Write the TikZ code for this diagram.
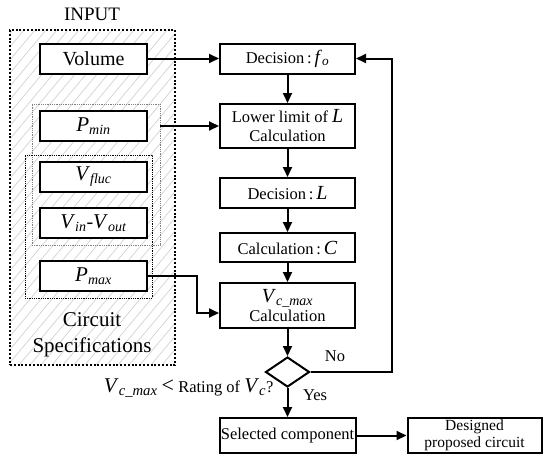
\documentclass[tikz,border=0pt]{standalone}
\usepackage{fontspec}
\setmainfont{Liberation Serif}
\usetikzlibrary{shapes.geometric,arrows.meta,calc}
\newcommand{\vv}[1]{\textit{#1}}
\begin{document}
\begin{tikzpicture}[x=1pt,y=-1pt,
  box/.style={draw,line width=2pt,fill=white,inner sep=0pt,align=center},
  lbox/.style={box,minimum width=107pt,minimum height=30pt,font=\fontsize{20}{22}\selectfont},
  rbox/.style={box,minimum width=135pt,font=\fontsize{16.5}{19}\selectfont},
  conn/.style={line width=2pt,-{Triangle[length=10pt,width=9pt]}},
  hatch/.style={gray!35,line width=0.7pt}]
\useasboundingbox (0,0) rectangle (543,463);
% hatching
\begin{scope}
\clip (10,30) rectangle (175,365);
\foreach \i in {-300,-289,...,190} \draw[hatch] (\i,365) -- ++(280,-335);
\end{scope}
\node[draw,line width=2pt,dash pattern=on 2pt off 1.8pt,minimum width=165pt,minimum height=335pt,inner sep=0pt] (outer) at (92.5,197.5) {};
\node[font=\fontsize{19}{20}\selectfont] (input) at (92,14) {INPUT};
\node[font=\fontsize{21}{26}\selectfont,align=center] (spec) at (92,335) {Circuit\\Specifications};
% group boxes
\node[draw,gray,line width=0.9pt,dash pattern=on 0.9pt off 0.9pt,minimum width=128pt,minimum height=141pt,inner sep=0pt] (grp1) at (96,174.5) {};
\node[draw,line width=0.9pt,dash pattern=on 0.9pt off 0.9pt,minimum width=127pt,minimum height=143pt,inner sep=0pt] (grp2) at (88.5,226.5) {};
% left boxes
\node[lbox] (vol) at (93.5,58.5) {Volume};
\node[lbox] (pmin) at (93.5,126) {{\fontsize{21}{22}\selectfont\vv{P}}\textsubscript{\vv{min}}};
\node[lbox] (vfluc) at (93.5,177) {{\fontsize{21}{22}\selectfont\vv{V}}\textsubscript{\vv{fluc}}};
\node[lbox] (vio) at (93.5,223) {{\fontsize{21}{22}\selectfont\vv{V}}\textsubscript{\vv{in}}-{\fontsize{21}{22}\selectfont\vv{V}}\textsubscript{\vv{out}}};
\node[lbox] (pmax) at (93.5,276) {{\fontsize{21}{22}\selectfont\vv{P}}\textsubscript{\vv{max}}};
% right boxes
\node[rbox,minimum height=30pt] (dec) at (287.5,58.5) {Decision\,:\,{\fontsize{19}{20}\selectfont\vv{f}\textsubscript{\vv{o}}}};
\node[rbox,minimum height=44pt] (low) at (287.5,126) {Lower limit of {\fontsize{20}{20}\selectfont\vv{L}}\\Calculation};
\node[rbox,minimum height=30pt] (decl) at (287.5,193) {Decision\,:\,{\fontsize{20}{20}\selectfont\vv{L}}};
\node[rbox,minimum height=29pt] (calc) at (287.5,247.5) {Calculation\,:\,{\fontsize{20}{20}\selectfont\vv{C}}};
\node[rbox,minimum height=45pt] (vcm) at (287.5,305.5) {{\fontsize{20}{18}\selectfont\vv{V}\textsubscript{\vv{c\_max}}}\\Calculation};
\node[draw,diamond,line width=2pt,minimum width=44pt,minimum height=30pt,inner sep=0pt] (dia) at (287.5,372) {};
\node[rbox,minimum width=136pt,minimum height=35pt] (sel) at (287.5,435.5) {Selected component};
\node[rbox,minimum width=134pt,minimum height=35pt,font=\fontsize{15.5}{16.5}\selectfont] (des) at (474.5,435.5) {Designed\\proposed circuit};
% labels
\node[font=\fontsize{16.5}{18}\selectfont] (no) at (335,356) {No};
\node[font=\fontsize{16.5}{18}\selectfont] (yes) at (315,395) {Yes};
\node[anchor=east,font=\fontsize{16.5}{18}\selectfont] (q) at (277,388) {{\fontsize{21}{20}\selectfont\vv{V}\textsubscript{\vv{c\_max}}} {\fontsize{22}{20}\selectfont<} Rating of {\fontsize{21}{20}\selectfont\vv{V}\textsubscript{\vv{c}}}?};
% connectors
\draw[conn] (vol.east) -- (vol.east -| dec.west);
\draw[conn] (grp1.east |- low.west) -- (low.west);
\coordinate (pk) at (197,313);
\draw[conn] (pmax.east) -| (pk) -- (pk -| vcm.west);
\draw[conn] (dec) -- (low);
\draw[conn] (low) -- (decl);
\draw[conn] (decl) -- (calc);
\draw[conn] (calc) -- (vcm);
\draw[conn] (vcm) -- (dia);
\draw[conn] (dia) -- (sel);
\draw[conn] (sel) -- (des);
\coordinate (fb) at (392,372);
\draw[conn] (dia.east) -- (fb) |- (dec.east);
\end{tikzpicture}
\end{document}
